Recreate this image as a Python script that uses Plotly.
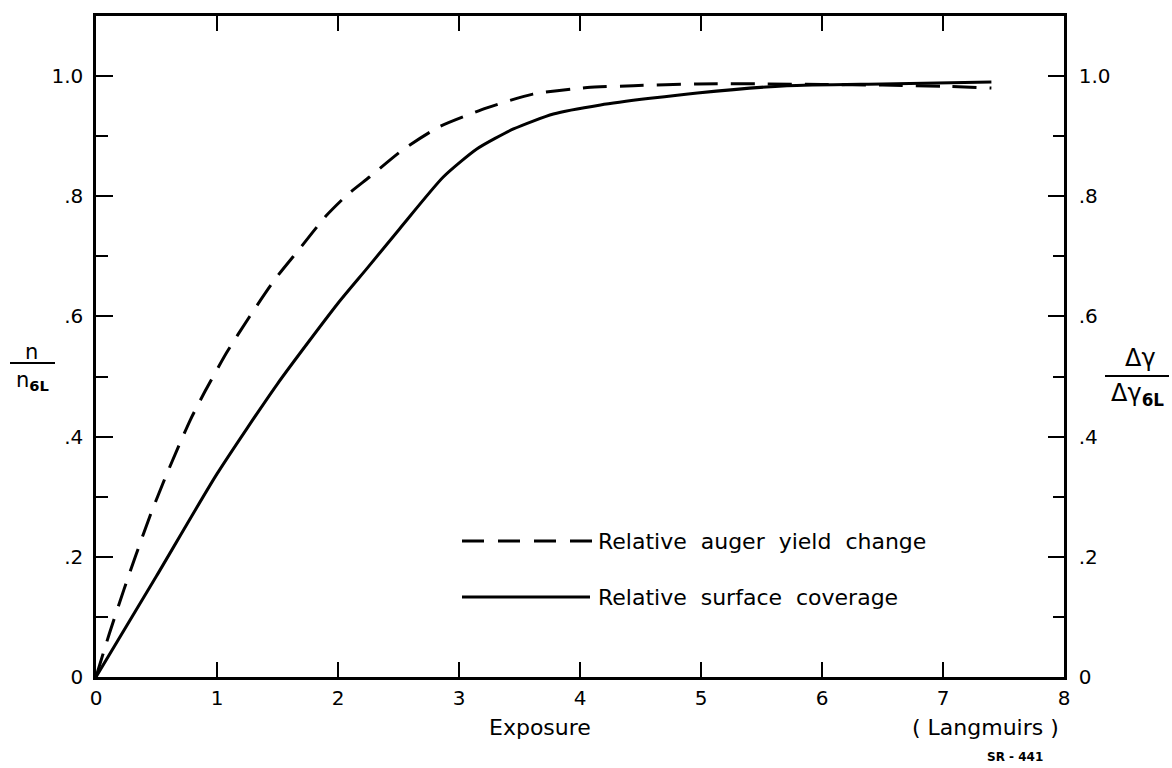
import plotly.graph_objects as go

# Exposure (Langmuirs) and relative Auger yield change (dashed curve)
auger_exposure = [0, 0.11, 0.23, 0.33, 0.45, 0.575, 0.685, 0.78, 0.90, 1.08, 1.27,
                  1.48, 1.68, 1.90, 2.08, 2.26, 2.54, 2.84, 3.23, 3.61, 4.06,
                  4.44, 4.97, 5.5, 6.0, 6.5, 7.0, 7.4]
auger_yield = [0, 0.072, 0.145, 0.203, 0.270, 0.333, 0.385, 0.428, 0.475, 0.540, 0.600,
               0.662, 0.712, 0.767, 0.803, 0.832, 0.878, 0.916, 0.947, 0.970, 0.981,
               0.984, 0.987, 0.987, 0.986, 0.985, 0.983, 0.980]

# Exposure (Langmuirs) and relative surface coverage (solid curve)
cover_exposure = [0, 0.5, 1.0, 1.5, 2.0, 2.24, 2.51, 2.87, 3.15, 3.45, 3.78,
                  4.17, 4.58, 4.97, 5.71, 6.5, 7.4]
cover_value = [0, 0.168, 0.338, 0.488, 0.622, 0.680, 0.746, 0.832, 0.879, 0.912, 0.937,
               0.952, 0.963, 0.972, 0.984, 0.987, 0.990]

x_ticks = [0, 1, 2, 3, 4, 5, 6, 7, 8]
y_ticks = [0, 0.2, 0.4, 0.6, 0.8, 1.0]
y_tick_text = ["0", ".2", ".4", ".6", ".8", "1.0"]
y_minor = [0.1, 0.3, 0.5, 0.7, 0.9]

legend_labels = ["Relative auger yield change", "Relative surface coverage"]

FONT = "DejaVu Sans"
W, H = 1172, 768
L, R, T, B = 96, 108, 16, 91
PW, PH = W - L - R, H - T - B
NB = "\u00a0"


def px(xp):
    return (xp - L) / PW


def py(yp):
    return (H - B - yp) / PH


def spaced(s):
    # widen the gaps between words, as in the hand-lettered labels
    return (" " + NB).join(s.split(" "))


fig = go.Figure()
fig.add_trace(go.Scatter(x=auger_exposure, y=auger_yield, mode="lines",
                         line=dict(color="black", width=3, dash="24px,13px",
                                   shape="spline", smoothing=0.6),
                         name=legend_labels[0], showlegend=False))
fig.add_trace(go.Scatter(x=cover_exposure, y=cover_value, mode="lines",
                         line=dict(color="black", width=3,
                                   shape="spline", smoothing=0.6),
                         name=legend_labels[1], showlegend=False))
# empty trace that carries the right-hand axis
fig.add_trace(go.Scatter(x=[None], y=[None], yaxis="y2", showlegend=False))

axis_common = dict(showline=True, linecolor="black", linewidth=2.5,
                   ticks="inside", tickcolor="black", tickwidth=2,
                   showgrid=False, zeroline=False,
                   tickfont=dict(family=FONT, size=20, color="black"))

fig.update_layout(
    width=W, height=H, autosize=False,
    margin=dict(l=L, r=R, t=T, b=B),
    paper_bgcolor="white", plot_bgcolor="white",
    showlegend=False,
    xaxis=dict(range=[0, 8], tickvals=x_ticks, ticktext=[str(v) for v in x_ticks],
               ticklen=15, mirror="ticks", ticklabelstandoff=1, **axis_common),
    yaxis=dict(range=[0, 1.1], tickvals=y_ticks, ticktext=y_tick_text,
               ticklen=17, ticklabelstandoff=6,
               minor=dict(tickvals=y_minor, ticks="inside", ticklen=12,
                          tickcolor="black", tickwidth=2),
               **axis_common),
    yaxis2=dict(range=[0, 1.1], tickvals=y_ticks, ticktext=y_tick_text,
                overlaying="y", side="right", ticklen=16, ticklabelstandoff=8,
                minor=dict(tickvals=y_minor, ticks="inside", ticklen=11,
                           tickcolor="black", tickwidth=2),
                **axis_common),
)

shapes = []
annotations = []

# Legend samples and labels
shapes.append(dict(type="line", xref="paper", yref="paper",
                   x0=px(462), x1=px(592), y0=py(541), y1=py(541),
                   line=dict(color="black", width=3, dash="22px,14px")))
shapes.append(dict(type="line", xref="paper", yref="paper",
                   x0=px(462), x1=px(590), y0=py(597), y1=py(597),
                   line=dict(color="black", width=3)))
for label, yp in zip(legend_labels, [541, 597]):
    annotations.append(dict(text=spaced(label), xref="paper", yref="paper",
                            x=px(596), y=py(yp), xanchor="left", yanchor="middle",
                            showarrow=False,
                            font=dict(family=FONT, size=22, color="black")))

# Left axis title: n / n_6L
annotations.append(dict(text="n", xref="paper", yref="paper", x=px(31), y=py(352),
                        xanchor="center", yanchor="middle", showarrow=False,
                        font=dict(family=FONT, size=21, color="black")))
shapes.append(dict(type="line", xref="paper", yref="paper",
                   x0=px(10), x1=px(55), y0=py(363), y1=py(363),
                   line=dict(color="black", width=2)))
annotations.append(dict(text="n<sub><b>6L</b></sub>", xref="paper", yref="paper",
                        x=px(33), y=py(381), xanchor="center", yanchor="middle",
                        showarrow=False,
                        font=dict(family=FONT, size=21, color="black")))

# Right axis title: Δγ / Δγ_6L
annotations.append(dict(text="Δγ", xref="paper", yref="paper", x=px(1140), y=py(358),
                        xanchor="center", yanchor="middle", showarrow=False,
                        font=dict(family=FONT, size=24, color="black")))
shapes.append(dict(type="line", xref="paper", yref="paper",
                   x0=px(1105), x1=px(1169), y0=py(376), y1=py(376),
                   line=dict(color="black", width=2)))
annotations.append(dict(text="Δγ<sub><b>6L</b></sub>", xref="paper", yref="paper",
                        x=px(1137), y=py(394), xanchor="center", yanchor="middle",
                        showarrow=False,
                        font=dict(family=FONT, size=24, color="black")))

# X-axis titles and figure code
annotations.append(dict(text="Exposure", xref="paper", yref="paper", x=px(540), y=py(727),
                        xanchor="center", yanchor="middle", showarrow=False,
                        font=dict(family=FONT, size=22, color="black")))
annotations.append(dict(text="( Langmuirs )", xref="paper", yref="paper", x=px(985), y=py(727),
                        xanchor="center", yanchor="middle", showarrow=False,
                        font=dict(family=FONT, size=22, color="black")))
annotations.append(dict(text="<b>SR - 441</b>", xref="paper", yref="paper", x=px(1015), y=py(757),
                        xanchor="center", yanchor="middle", showarrow=False,
                        font=dict(family=FONT, size=12, color="black")))

fig.update_layout(shapes=shapes, annotations=annotations)

fig.write_html("out.html")
